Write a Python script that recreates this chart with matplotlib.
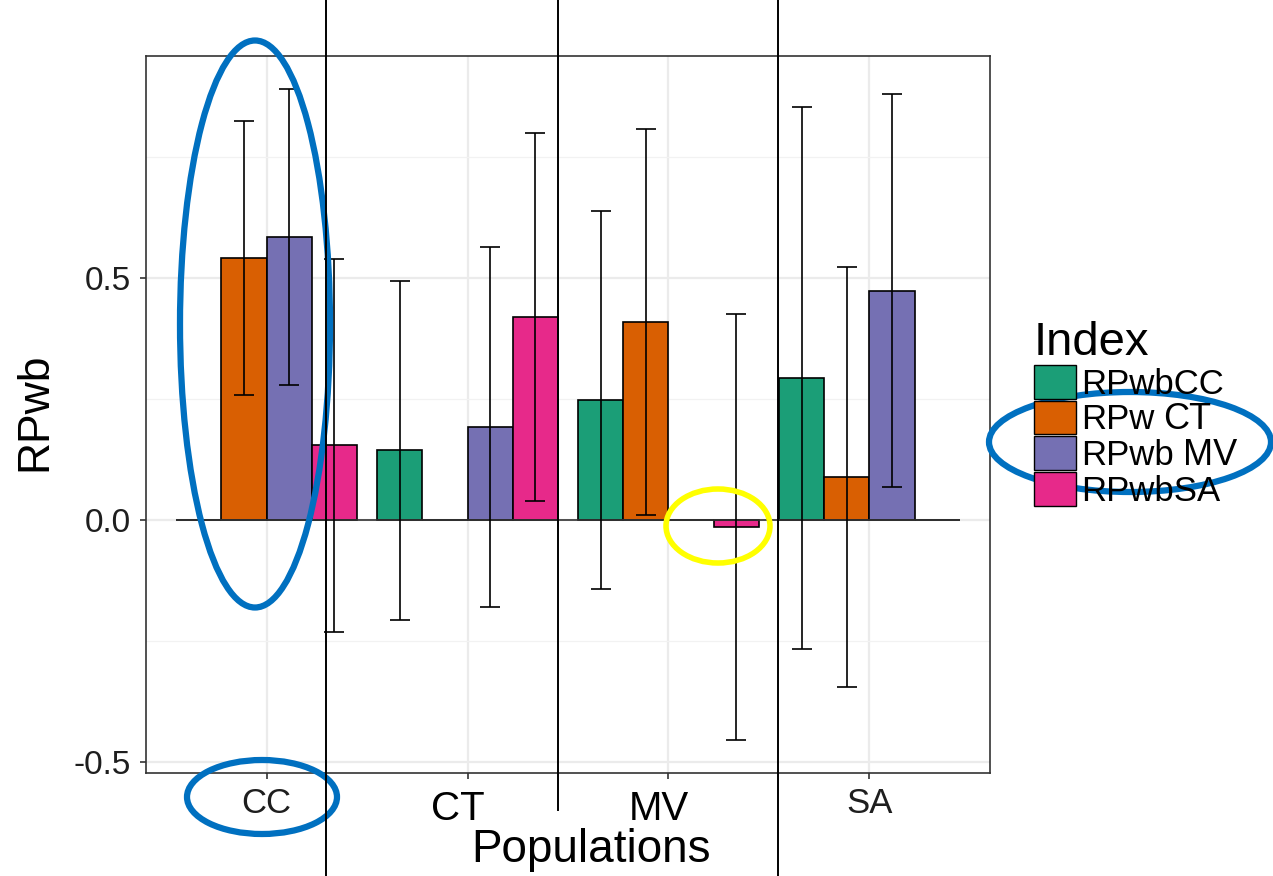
import matplotlib
matplotlib.use("Agg")
import matplotlib.pyplot as plt
from matplotlib.patches import Patch, Ellipse
from matplotlib.lines import Line2D
import numpy as np

# data
populations = ["CC", "CT", "MV", "SA"]
indices = ["RPwbCC", "RPwbCT", "RPwbMV", "RPwbSA"]
colors = ["#1B9E77", "#D95F02", "#7570B3", "#E7298A"]

rpwb_cc = [0.0, 0.144, 0.248, 0.293]
rpwb_ct = [0.542, 0.0, 0.409, 0.089]
rpwb_mv = [0.584, 0.193, 0.0, 0.474]
rpwb_sa = [0.154, 0.419, -0.015, 0.0]

err_cc = [np.nan, 0.350, 0.390, 0.560]
err_ct = [0.283, np.nan, 0.399, 0.433]
err_mv = [0.306, 0.372, np.nan, 0.406]
err_sa = [0.385, 0.380, 0.440, np.nan]

# legend text as it appears on the slide (CT / MV pasted over in a bigger font)
legend_labels = ["RPwbCC", "RPw", "RPwb", "RPwbSA"]
legend_overlays = ["", "CT", "MV", ""]

W, H = 1273, 876
plt.rcParams["font.family"] = ["Liberation Sans", "DejaVu Sans"]

fig = plt.figure(figsize=(W / 100, H / 100), dpi=100)
ax = fig.add_axes([146 / W, 1 - 773 / H, (990 - 146) / W, (773 - 56) / H])

values = [rpwb_cc, rpwb_ct, rpwb_mv, rpwb_sa]
errors = [err_cc, err_ct, err_mv, err_sa]
x = np.arange(1, len(populations) + 1)
bw = 0.9 / len(indices)

for i, (vals, errs) in enumerate(zip(values, errors)):
    off = (i - (len(indices) - 1) / 2) * bw
    ax.bar(x + off, vals, width=bw, color=colors[i], edgecolor="black",
           linewidth=1.2, zorder=3)
    ax.errorbar(x + off, vals, yerr=errs, fmt="none", ecolor="black",
                elinewidth=1.2, capsize=7, capthick=1.2, zorder=4)

# baseline under the dodged bars
ax.hlines(0, x[0] - 0.45, x[-1] + 0.45, color="#333333", lw=1.2, zorder=3)

ax.set_xlim(0.4, 4.6)
ax.set_ylim(-0.5227, 0.9587)
ax.set_xticks(x)
ax.set_xticklabels(populations)
ax.set_yticks([-0.5, 0.0, 0.5])
ax.set_yticklabels(["-0.5", "0.0", "0.5"])
ax.set_yticks([-0.25, 0.25, 0.75], minor=True)
ax.grid(which="major", color="#EBEBEB", lw=1.6, zorder=0)
ax.grid(which="minor", axis="y", color="#F2F2F2", lw=0.9, zorder=0)
ax.set_axisbelow(True)
for s in ax.spines.values():
    s.set_color("#333333")
    s.set_linewidth(1.2)
ax.tick_params(which="major", colors="#333333", labelcolor="#1E1E1E",
               length=4, width=1.2)
ax.tick_params(axis="y", labelsize=24, pad=7)
ax.tick_params(axis="x", labelsize=25, pad=6)
ax.tick_params(which="minor", length=0)

# CT and MV tick labels were covered and retyped on the slide
tl = ax.get_xticklabels()
for k in (1, 2):
    tl[k].set_visible(False)
    ax.text(x[k] - 0.05, -0.05, populations[k], transform=ax.get_xaxis_transform(),
            ha="center", va="center", fontsize=29, color="black")

fig.text(591 / W, 1 - 850 / H, "Populations", ha="center", va="center",
         fontsize=33, color="black")
fig.text(35 / W, 1 - 412 / H, "RPwb", ha="center", va="center", rotation=90,
         fontsize=32, color="black")

handles = [Patch(facecolor=c, edgecolor="black", linewidth=1.0) for c in colors]
leg = fig.legend(handles, legend_labels, title="Index", loc="upper left",
                 bbox_to_anchor=(1034 / W, 1 - 321 / H), frameon=False,
                 fontsize=25, title_fontsize=34, handlelength=1.2,
                 handleheight=1.12, labelspacing=0.0, handletextpad=0.15,
                 borderpad=0, borderaxespad=0, alignment="left")

fig.canvas.draw()
r = fig.canvas.get_renderer()
for t, extra in zip(leg.get_texts(), legend_overlays):
    if extra:
        bb = t.get_window_extent(r)
        fig.text((bb.x1 + 9) / W, (bb.y0 + bb.y1) / 2 / H, extra, ha="left",
                 va="center", fontsize=26, color="black")

# slide annotations: divider lines and highlight ellipses
for px, bottom in [(326, 876), (558, 810), (778, 876)]:
    fig.add_artist(Line2D([px / W, px / W], [1, 1 - bottom / H],
                          transform=fig.transFigure, color="black", lw=1.4))

blue = "#0070C0"
for cx, cy, w, h, col, lw in [(255, 324, 150, 567, blue, 4.5),
                              (262, 797, 150, 74, blue, 4.5),
                              (1130, 442, 282, 100, blue, 4.5),
                              (718, 526, 104, 74, "#FFFF00", 4)]:
    fig.add_artist(Ellipse((cx / W, 1 - cy / H), w / W, h / H,
                           transform=fig.transFigure, fill=False,
                           edgecolor=col, lw=lw))

fig.savefig("out.png", dpi=100)
